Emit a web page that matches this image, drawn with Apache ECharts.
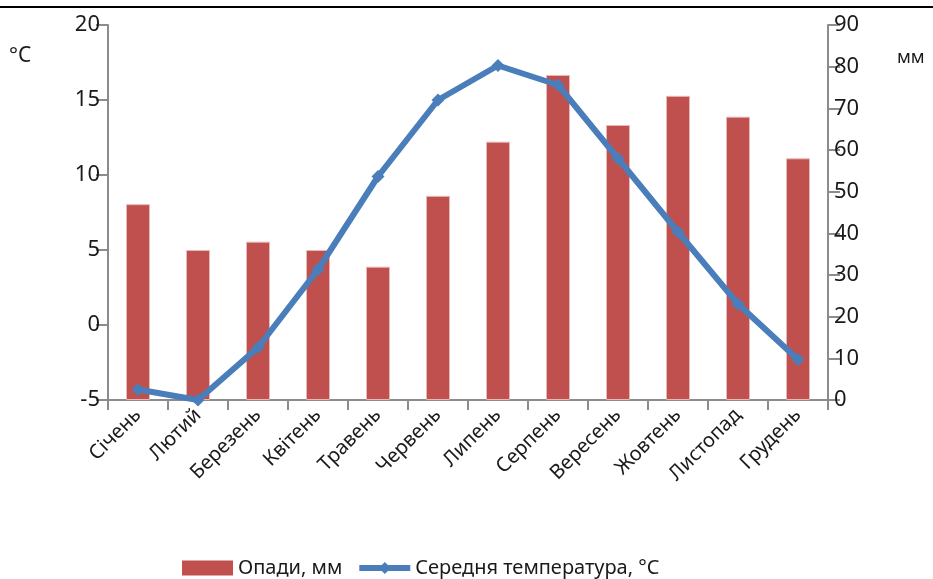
<!DOCTYPE html>
<html lang="uk">
<head>
    <meta charset="UTF-8">
    <title>Клімат</title>
    <style>
        html, body {margin: 0; padding: 0; background: #fff;}
        #main {width: 933px; height: 579px;}
    </style>
</head>
<body>
<div id="main"></div>
<script src="https://cdn.jsdelivr.net/npm/echarts@6/dist/echarts.min.js"></script>
<script>
    // місяці
    const months = ['Січень', 'Лютий', 'Березень', 'Квітень', 'Травень', 'Червень',
        'Липень', 'Серпень', 'Вересень', 'Жовтень', 'Листопад', 'Грудень']
    // опади, мм (права вісь)
    const precipitation = [47, 36, 38, 36, 32, 49, 62, 78, 66, 73, 68, 58]
    // середня температура, °C (ліва вісь)
    const temperature = [-4.3, -5.0, -1.5, 3.7, 9.9, 15.0, 17.3, 16.0, 11.1, 6.2, 1.4, -2.3]

    const font = 'Noto Sans'
    const axisColor = '#8c8c8c'
    const textColor = '#1a1a1a'

    let chart = echarts.init(document.getElementById('main'))
    let option = {
        animation: false,
        textStyle: {fontFamily: font},
        grid: {left: 108, right: 105, top: 25, bottom: 179},
        legend: {
            top: 553,
            left: 177,
            itemWidth: 51,
            itemHeight: 15,
            itemGap: 14,
            lineStyle: {width: 6},
            textStyle: {fontSize: 20, color: textColor, fontFamily: font},
            data: [
                {name: 'Опади, мм', icon: 'rect', itemStyle: {borderWidth: 0}},
                'Середня температура, °C'
            ]
        },
        graphic: [
            {type: 'line', shape: {x1: 0, y1: 7, x2: 933, y2: 7}, style: {stroke: '#000', lineWidth: 2}},
            {type: 'text', left: 9, top: 46, style: {text: '°C', fontSize: 21, fill: textColor, fontFamily: font}},
            {type: 'text', left: 897, top: 49, style: {text: 'мм', fontSize: 18, fill: textColor, fontFamily: font}}
        ],
        xAxis: {
            type: 'category',
            data: months,
            axisLine: {onZero: false, lineStyle: {color: axisColor, width: 2}},
            axisTick: {show: true, length: 10, lineStyle: {color: axisColor, width: 2}},
            axisLabel: {rotate: 45, fontSize: 20, color: textColor, margin: 12, interval: 0}
        },
        yAxis: [
            {
                type: 'value',
                min: -5,
                max: 20,
                interval: 5,
                splitLine: {show: false},
                axisLine: {show: true, lineStyle: {color: axisColor, width: 2}},
                axisTick: {show: true, length: 12, lineStyle: {color: axisColor, width: 2}},
                axisLabel: {fontSize: 22, color: textColor, margin: 8}
            },
            {
                type: 'value',
                min: 0,
                max: 90,
                interval: 10,
                splitLine: {show: false},
                axisLine: {show: true, lineStyle: {color: axisColor, width: 2}},
                axisTick: {show: true, length: 12, lineStyle: {color: axisColor, width: 2}},
                axisLabel: {fontSize: 22, color: textColor, margin: 6}
            }
        ],
        series: [
            {
                name: 'Опади, мм',
                type: 'bar',
                yAxisIndex: 1,
                barWidth: 24,
                itemStyle: {color: '#c0504d', borderColor: '#e8b8b6', borderWidth: 1},
                data: precipitation
            },
            {
                name: 'Середня температура, °C',
                type: 'line',
                yAxisIndex: 0,
                symbol: 'diamond',
                symbolSize: 13,
                lineStyle: {color: '#4a7ebb', width: 6},
                itemStyle: {color: '#4a7ebb'},
                data: temperature
            }
        ]
    }
    chart.setOption(option)
</script>
</body>
</html>
